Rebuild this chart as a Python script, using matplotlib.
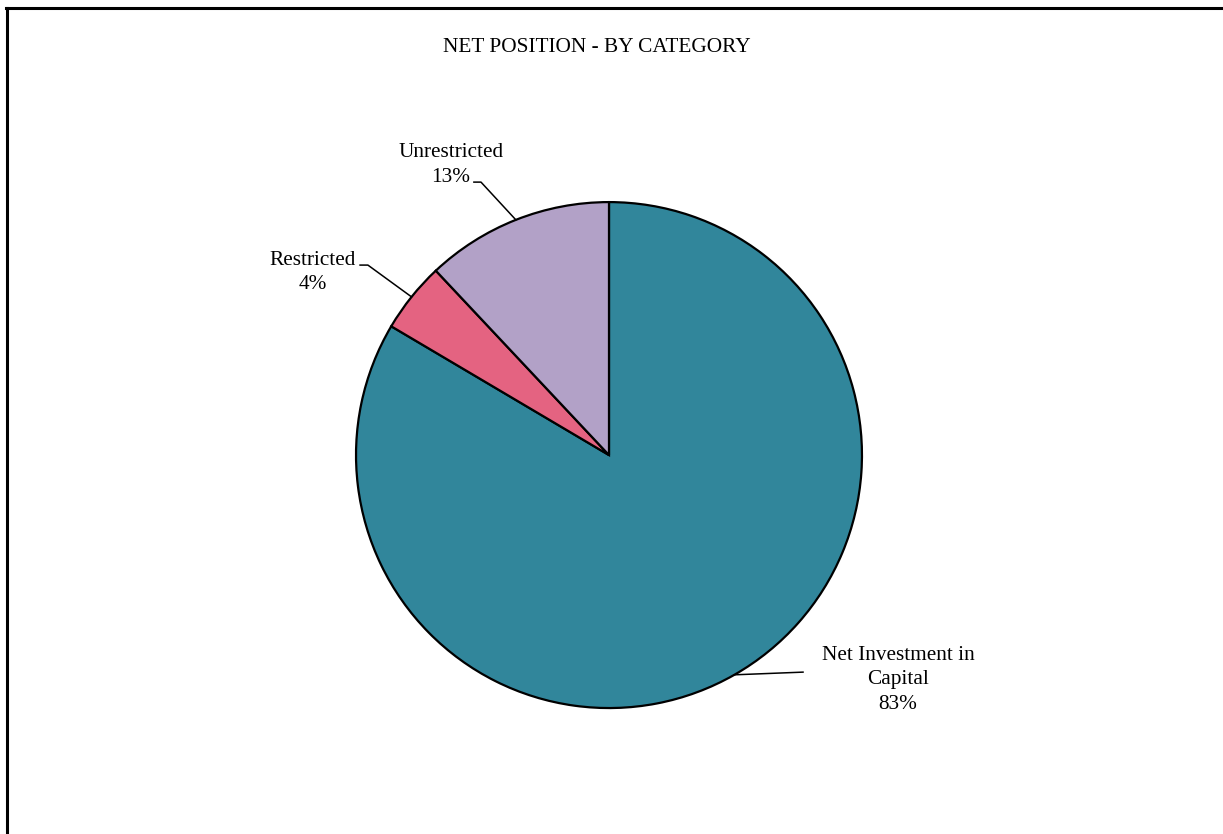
import numpy as np
import matplotlib.pyplot as plt
from matplotlib.lines import Line2D

plt.rcParams['font.family'] = ['Liberation Serif', 'DejaVu Serif']

# data
categories = ['Net Investment in\nCapital', 'Restricted', 'Unrestricted']
shares = [83.5, 4.5, 12.0]
pct_labels = ['83%', '4%', '13%']
colors = ['#31869B', '#E46381', '#B2A1C7']

# label text centres and leader elbows (data units, pie radius = 1)
label_pos = [(1.142, -0.889), (-1.170, 0.723), (-0.625, 1.146)]
elbow_pos = [(0.767, -0.858), (-0.953, 0.751), (-0.506, 1.079)]
text_end = [None, (-0.984, 0.751), (-0.534, 1.079)]

fig = plt.figure(figsize=(12.23, 8.34), dpi=100)

# outer frame: top and left lines only
fig.add_artist(Line2D([6 / 1223, 1], [1 - 7.5 / 834] * 2, color='black', lw=2.2))
fig.add_artist(Line2D([6.5 / 1223] * 2, [0, 1 - 7.5 / 834], color='black', lw=2.2))

fig.text(597 / 1223, 1 - 48 / 834, 'NET POSITION - BY CATEGORY', ha='center', va='center',
         fontsize=15.3)

ax = fig.add_axes([0.2911, 0.1510, 0.4137, 0.6067])
wedges, _ = ax.pie(shares, colors=colors, startangle=90, counterclock=False,
                   wedgeprops=dict(edgecolor='black', linewidth=1.6))
ax.set_xlim(-1, 1)
ax.set_ylim(-1, 1)
ax.set_aspect('equal')
ax.axis('off')

for i, w in enumerate(wedges):
    mid = np.deg2rad((w.theta1 + w.theta2) / 2)
    px, py = np.cos(mid), np.sin(mid)
    pts = [(px, py), elbow_pos[i]]
    if text_end[i] is not None:
        pts.append(text_end[i])
    xs, ys = zip(*pts)
    ax.plot(xs, ys, color='black', lw=1.1, clip_on=False)
    ax.text(label_pos[i][0], label_pos[i][1], f'{categories[i]}\n{pct_labels[i]}',
            ha='center', va='center', fontsize=15.3, linespacing=1.38)

fig.savefig('out.png', dpi=100, facecolor='white')
